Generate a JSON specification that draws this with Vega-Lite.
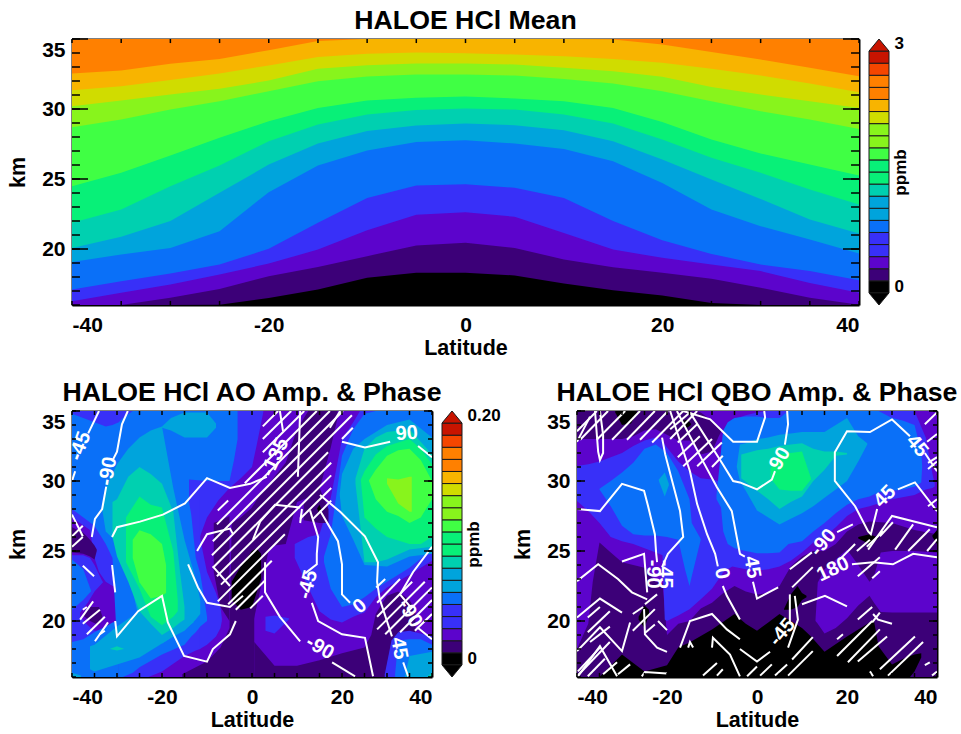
{"$schema":"https://vega.github.io/schema/vega-lite/v6.json","background":"white","padding":{"left":7,"top":8,"right":0,"bottom":0},
"config":{"font":"Liberation Sans","view":{"stroke":null},"title":{"font":"Liberation Sans","fontSize":26.7,"fontWeight":"bold","color":"black","anchor":"middle","offset":3.5},
"axis":{"grid":false,"domain":false,"ticks":false,"labels":false,"title":null,"domainColor":"black","domainWidth":2,"zindex":1,"labelFont":"Liberation Sans","labelFontSize":21,"labelFontWeight":"bold","labelColor":"black","titleFont":"Liberation Sans","titleFontSize":21.5,"titleFontWeight":"bold","titleColor":"black"}},
"datasets":{
"kmT":[{"km":16},{"km":17},{"km":18},{"km":19},{"km":20},{"km":21},{"km":22},{"km":23},{"km":24},{"km":25},{"km":26},{"km":27},{"km":28},{"km":29},{"km":30},{"km":31},{"km":32},{"km":33},{"km":34},{"km":35}],
"kmM":[{"km":20},{"km":25},{"km":30},{"km":35}],
"latT":[{"lat":-40},{"lat":-35},{"lat":-30},{"lat":-25},{"lat":-20},{"lat":-15},{"lat":-10},{"lat":-5},{"lat":0},{"lat":5},{"lat":10},{"lat":15},{"lat":20},{"lat":25},{"lat":30},{"lat":35},{"lat":40}],
"top":[
{"c":"o","lat":-40,"hi":35},{"c":"o","lat":40,"hi":35},
{"c":"a","lat":-40,"hi":32.54},{"c":"a","lat":-35,"hi":32.75},{"c":"a","lat":-30,"hi":33.23},{"c":"a","lat":-25,"hi":33.58},{"c":"a","lat":-20,"hi":34.2},{"c":"a","lat":-15,"hi":34.85},{"c":"a","lat":-10,"hi":35},{"c":"a","lat":-5,"hi":35},{"c":"a","lat":0,"hi":35},{"c":"a","lat":5,"hi":35},{"c":"a","lat":10,"hi":35},{"c":"a","lat":15,"hi":34.96},{"c":"a","lat":20,"hi":34.6},{"c":"a","lat":25,"hi":34.08},{"c":"a","lat":30,"hi":33.53},{"c":"a","lat":35,"hi":32.94},{"c":"a","lat":40,"hi":32.34},
{"c":"y","lat":-40,"hi":31.34},{"c":"y","lat":-35,"hi":31.63},{"c":"y","lat":-30,"hi":32.08},{"c":"y","lat":-25,"hi":32.54},{"c":"y","lat":-20,"hi":33.11},{"c":"y","lat":-15,"hi":33.72},{"c":"y","lat":-10,"hi":33.94},{"c":"y","lat":-5,"hi":34.03},{"c":"y","lat":0,"hi":33.99},{"c":"y","lat":5,"hi":33.89},{"c":"y","lat":10,"hi":33.77},{"c":"y","lat":15,"hi":33.58},{"c":"y","lat":20,"hi":33.3},{"c":"y","lat":25,"hi":32.87},{"c":"y","lat":30,"hi":32.39},{"c":"y","lat":35,"hi":31.82},{"c":"y","lat":40,"hi":31.2},
{"c":"l","lat":-40,"hi":30.2},{"c":"l","lat":-35,"hi":30.6},{"c":"l","lat":-30,"hi":31.03},{"c":"l","lat":-25,"hi":31.44},{"c":"l","lat":-20,"hi":32.03},{"c":"l","lat":-15,"hi":32.87},{"c":"l","lat":-10,"hi":33.13},{"c":"l","lat":-5,"hi":33.25},{"c":"l","lat":0,"hi":33.25},{"c":"l","lat":5,"hi":33.18},{"c":"l","lat":10,"hi":32.94},{"c":"l","lat":15,"hi":32.7},{"c":"l","lat":20,"hi":32.3},{"c":"l","lat":25,"hi":31.58},{"c":"l","lat":30,"hi":31.03},{"c":"l","lat":35,"hi":30.56},{"c":"l","lat":40,"hi":30.08},
{"c":"g","lat":-40,"hi":28.7},{"c":"g","lat":-35,"hi":29.25},{"c":"g","lat":-30,"hi":29.96},{"c":"g","lat":-25,"hi":30.56},{"c":"g","lat":-20,"hi":31.27},{"c":"g","lat":-15,"hi":31.99},{"c":"g","lat":-10,"hi":32.32},{"c":"g","lat":-5,"hi":32.46},{"c":"g","lat":0,"hi":32.46},{"c":"g","lat":5,"hi":32.39},{"c":"g","lat":10,"hi":32.15},{"c":"g","lat":15,"hi":31.82},{"c":"g","lat":20,"hi":31.27},{"c":"g","lat":25,"hi":30.56},{"c":"g","lat":30,"hi":29.84},{"c":"g","lat":35,"hi":29.25},{"c":"g","lat":40,"hi":28.58},
{"c":"s","lat":-40,"hi":24.49},{"c":"s","lat":-35,"hi":25.44},{"c":"s","lat":-30,"hi":26.68},{"c":"s","lat":-25,"hi":27.94},{"c":"s","lat":-20,"hi":29.13},{"c":"s","lat":-15,"hi":30.08},{"c":"s","lat":-10,"hi":30.6},{"c":"s","lat":-5,"hi":30.8},{"c":"s","lat":0,"hi":30.89},{"c":"s","lat":5,"hi":30.75},{"c":"s","lat":10,"hi":30.56},{"c":"s","lat":15,"hi":30.08},{"c":"s","lat":20,"hi":29.08},{"c":"s","lat":25,"hi":27.82},{"c":"s","lat":30,"hi":26.82},{"c":"s","lat":35,"hi":26.03},{"c":"s","lat":40,"hi":25.25},
{"c":"t","lat":-40,"hi":21.87},{"c":"t","lat":-35,"hi":22.82},{"c":"t","lat":-30,"hi":24.49},{"c":"t","lat":-25,"hi":25.96},{"c":"t","lat":-20,"hi":27.7},{"c":"t","lat":-15,"hi":28.89},{"c":"t","lat":-10,"hi":29.61},{"c":"t","lat":-5,"hi":29.92},{"c":"t","lat":0,"hi":30.03},{"c":"t","lat":5,"hi":29.96},{"c":"t","lat":10,"hi":29.61},{"c":"t","lat":15,"hi":28.96},{"c":"t","lat":20,"hi":27.82},{"c":"t","lat":25,"hi":26.51},{"c":"t","lat":30,"hi":25.44},{"c":"t","lat":35,"hi":24.25},{"c":"t","lat":40,"hi":23.18},
{"c":"c","lat":-40,"hi":20.08},{"c":"c","lat":-35,"hi":20.87},{"c":"c","lat":-30,"hi":22},{"c":"c","lat":-25,"hi":24.01},{"c":"c","lat":-20,"hi":26.03},{"c":"c","lat":-15,"hi":27.53},{"c":"c","lat":-10,"hi":28.42},{"c":"c","lat":-5,"hi":28.82},{"c":"c","lat":0,"hi":28.96},{"c":"c","lat":5,"hi":28.84},{"c":"c","lat":10,"hi":28.49},{"c":"c","lat":15,"hi":27.7},{"c":"c","lat":20,"hi":26.39},{"c":"c","lat":25,"hi":24.96},{"c":"c","lat":30,"hi":23.58},{"c":"c","lat":35,"hi":22.11},{"c":"c","lat":40,"hi":21.11},
{"c":"b","lat":-40,"hi":19.08},{"c":"b","lat":-35,"hi":19.6},{"c":"b","lat":-30,"hi":20.08},{"c":"b","lat":-25,"hi":21.27},{"c":"b","lat":-20,"hi":24.06},{"c":"b","lat":-15,"hi":25.96},{"c":"b","lat":-10,"hi":27.03},{"c":"b","lat":-5,"hi":27.65},{"c":"b","lat":0,"hi":27.77},{"c":"b","lat":5,"hi":27.53},{"c":"b","lat":10,"hi":27.15},{"c":"b","lat":15,"hi":26.27},{"c":"b","lat":20,"hi":24.72},{"c":"b","lat":25,"hi":22.82},{"c":"b","lat":30,"hi":21.63},{"c":"b","lat":35,"hi":20.68},{"c":"b","lat":40,"hi":19.68},
{"c":"v","lat":-40,"hi":17.11},{"c":"v","lat":-35,"hi":17.7},{"c":"v","lat":-30,"hi":18.25},{"c":"v","lat":-25,"hi":18.89},{"c":"v","lat":-20,"hi":20.01},{"c":"v","lat":-15,"hi":21.87},{"c":"v","lat":-10,"hi":23.65},{"c":"v","lat":-5,"hi":24.53},{"c":"v","lat":0,"hi":24.63},{"c":"v","lat":5,"hi":24.37},{"c":"v","lat":10,"hi":23.65},{"c":"v","lat":15,"hi":22},{"c":"v","lat":20,"hi":20.63},{"c":"v","lat":25,"hi":19.65},{"c":"v","lat":30,"hi":18.89},{"c":"v","lat":35,"hi":18.42},{"c":"v","lat":40,"hi":17.77},
{"c":"p","lat":-40,"hi":16.27},{"c":"p","lat":-35,"hi":16.87},{"c":"p","lat":-30,"hi":17.46},{"c":"p","lat":-25,"hi":18.18},{"c":"p","lat":-20,"hi":18.96},{"c":"p","lat":-15,"hi":19.96},{"c":"p","lat":-10,"hi":21.34},{"c":"p","lat":-5,"hi":22.44},{"c":"p","lat":0,"hi":22.63},{"c":"p","lat":5,"hi":22.3},{"c":"p","lat":10,"hi":21.15},{"c":"p","lat":15,"hi":19.96},{"c":"p","lat":20,"hi":19.37},{"c":"p","lat":25,"hi":18.89},{"c":"p","lat":30,"hi":18.42},{"c":"p","lat":35,"hi":17.58},{"c":"p","lat":40,"hi":16.87},
{"c":"i","lat":-40,"hi":16},{"c":"i","lat":-35,"hi":16},{"c":"i","lat":-30,"hi":16.51},{"c":"i","lat":-25,"hi":17.15},{"c":"i","lat":-20,"hi":18.06},{"c":"i","lat":-15,"hi":18.72},{"c":"i","lat":-10,"hi":19.49},{"c":"i","lat":-5,"hi":20.25},{"c":"i","lat":0,"hi":20.44},{"c":"i","lat":5,"hi":20.08},{"c":"i","lat":10,"hi":19.25},{"c":"i","lat":15,"hi":18.7},{"c":"i","lat":20,"hi":18.3},{"c":"i","lat":25,"hi":17.87},{"c":"i","lat":30,"hi":17.23},{"c":"i","lat":35,"hi":16.51},{"c":"i","lat":40,"hi":16.01},
{"c":"k","lat":-40,"hi":16},{"c":"k","lat":-30,"hi":16},{"c":"k","lat":-25,"hi":16.01},{"c":"k","lat":-20,"hi":16.5},{"c":"k","lat":-15,"hi":17.11},{"c":"k","lat":-10,"hi":17.94},{"c":"k","lat":-5,"hi":18.3},{"c":"k","lat":0,"hi":18.3},{"c":"k","lat":5,"hi":18.11},{"c":"k","lat":10,"hi":17.53},{"c":"k","lat":15,"hi":17.06},{"c":"k","lat":20,"hi":16.68},{"c":"k","lat":25,"hi":16.15},{"c":"k","lat":30,"hi":16},{"c":"k","lat":40,"hi":16}
],
"cbBands":[{"c":"k","lo":-1,"hi":0},{"c":"i","lo":0,"hi":1},{"c":"p","lo":1,"hi":2},{"c":"v","lo":2,"hi":3},{"c":"v","lo":3,"hi":4},{"c":"b","lo":4,"hi":5},{"c":"c","lo":5,"hi":6},{"c":"c","lo":6,"hi":7},{"c":"t","lo":7,"hi":8},{"c":"s","lo":8,"hi":9},{"c":"s","lo":9,"hi":10},{"c":"g","lo":10,"hi":11},{"c":"l","lo":11,"hi":12},{"c":"l","lo":12,"hi":13},{"c":"y","lo":13,"hi":14},{"c":"a","lo":14,"hi":15},{"c":"o","lo":15,"hi":16},{"c":"o","lo":16,"hi":17},{"c":"x","lo":17,"hi":18},{"c":"r","lo":18,"hi":19}],
"cbEnds":[{"c":"r","u":0,"lo":19,"hi":19},{"c":"r","u":0.5,"lo":19,"hi":20},{"c":"r","u":1,"lo":19,"hi":19},{"c":"k","u":0,"lo":-1,"hi":-1},{"c":"k","u":0.5,"lo":-2,"hi":-1},{"c":"k","u":1,"lo":-1,"hi":-1}],
"ao":[
{"b":"base","c":"p","lat":-40,"lo":16,"hi":35},{"b":"base","c":"p","lat":40,"lo":16,"hi":35},
{"b":"v1","c":"v","lat":-40,"lo":27.4,"hi":35},{"b":"v1","c":"v","lat":-36,"lo":26.5,"hi":35},{"b":"v1","c":"v","lat":-35,"lo":24.5,"hi":35},{"b":"v1","c":"v","lat":-34,"lo":23.5,"hi":35},{"b":"v1","c":"v","lat":-32.5,"lo":22.8,"hi":35},{"b":"v1","c":"v","lat":-30.5,"lo":22.4,"hi":35},{"b":"v1","c":"v","lat":-29.6,"lo":16,"hi":35},{"b":"v1","c":"v","lat":-23,"lo":16,"hi":35},{"b":"v1","c":"v","lat":-20,"lo":16.4,"hi":35},{"b":"v1","c":"v","lat":-15,"lo":17.5,"hi":35},{"b":"v1","c":"v","lat":-12.5,"lo":17.9,"hi":35},{"b":"v1","c":"v","lat":-11.5,"lo":18,"hi":35},
{"b":"v2","c":"v","lat":-11.6,"lo":26,"hi":35},{"b":"v2","c":"v","lat":-10,"lo":27.4,"hi":35},{"b":"v2","c":"v","lat":-7.5,"lo":28.6,"hi":35},{"b":"v2","c":"v","lat":-5,"lo":29.5,"hi":35},{"b":"v2","c":"v","lat":-2.5,"lo":30.2,"hi":35},{"b":"v2","c":"v","lat":0,"lo":31,"hi":35},{"b":"v2","c":"v","lat":1,"lo":32.5,"hi":35},{"b":"v2","c":"v","lat":2.5,"lo":34.9,"hi":35},
{"b":"v2b","c":"v","lat":-11.6,"lo":18,"hi":26},{"b":"v2b","c":"v","lat":-10,"lo":18.3,"hi":23.5},{"b":"v2b","c":"v","lat":-8,"lo":18.9,"hi":22},{"b":"v2b","c":"v","lat":-7,"lo":19.5,"hi":21},{"b":"v2b","c":"v","lat":-6.7,"lo":20,"hi":20.2},
{"b":"v3","c":"v","lat":-40,"lo":16,"hi":24.7},{"b":"v3","c":"v","lat":-37.5,"lo":16,"hi":24.7},{"b":"v3","c":"v","lat":-36,"lo":16,"hi":24.5},{"b":"v3","c":"v","lat":-35,"lo":16,"hi":24},{"b":"v3","c":"v","lat":-33.5,"lo":16,"hi":23},{"b":"v3","c":"v","lat":-30,"lo":16,"hi":21},
{"b":"vR","c":"v","lat":9.5,"lo":24.5,"hi":25.5},{"b":"vR","c":"v","lat":12.5,"lo":22.4,"hi":26},{"b":"vR","c":"v","lat":15,"lo":20.7,"hi":26.2},{"b":"vR","c":"v","lat":17.5,"lo":20.1,"hi":28.8},{"b":"vR","c":"v","lat":20,"lo":19.9,"hi":33},{"b":"vR","c":"v","lat":22.5,"lo":20.3,"hi":34.2},{"b":"vR","c":"v","lat":24,"lo":20.5,"hi":35},{"b":"vR","c":"v","lat":25,"lo":20.6,"hi":35},{"b":"vR","c":"v","lat":27.5,"lo":21.7,"hi":35},{"b":"vR","c":"v","lat":30,"lo":22.4,"hi":35},{"b":"vR","c":"v","lat":35,"lo":23.3,"hi":35},{"b":"vR","c":"v","lat":40,"lo":24.3,"hi":35},
{"b":"p2","c":"p","lat":-38.2,"lo":20.3,"hi":20.6},{"b":"p2","c":"p","lat":-36.5,"lo":19.7,"hi":21.3},{"b":"p2","c":"p","lat":-35,"lo":19.3,"hi":22.1},{"b":"p2","c":"p","lat":-33,"lo":19.4,"hi":22.8},{"b":"p2","c":"p","lat":-31,"lo":19.8,"hi":22.5},{"b":"p2","c":"p","lat":-29.6,"lo":19.9,"hi":22.4},
{"b":"iL","c":"i","lat":-40,"lo":24.9,"hi":26.7},{"b":"iL","c":"i","lat":-37.5,"lo":24.8,"hi":26.3},{"b":"iL","c":"i","lat":-36,"lo":24.6,"hi":25.8},{"b":"iL","c":"i","lat":-35,"lo":24.4,"hi":25.4},{"b":"iL","c":"i","lat":-34.5,"lo":25,"hi":25.1},
{"b":"ip2","c":"i","lat":-37.5,"lo":20.4,"hi":20.6},{"b":"ip2","c":"i","lat":-36,"lo":20,"hi":21},{"b":"ip2","c":"i","lat":-34,"lo":19.7,"hi":21},{"b":"ip2","c":"i","lat":-33.3,"lo":20.2,"hi":20.4},
{"b":"i1","c":"i","lat":-15.5,"lo":16,"hi":16.2},{"b":"i1","c":"i","lat":-12.5,"lo":16,"hi":16.7},{"b":"i1","c":"i","lat":-10,"lo":16,"hi":17.1},{"b":"i1","c":"i","lat":-7,"lo":16,"hi":18.1},{"b":"i1","c":"i","lat":-5,"lo":16,"hi":19.5},{"b":"i1","c":"i","lat":-4.5,"lo":16,"hi":27},{"b":"i1","c":"i","lat":-2.5,"lo":16,"hi":27.4},{"b":"i1","c":"i","lat":0,"lo":16,"hi":28.1},{"b":"i1","c":"i","lat":0.5,"lo":16,"hi":28.3},
{"b":"i1b","c":"i","lat":-8.5,"lo":23.5,"hi":27},{"b":"i1b","c":"i","lat":-7,"lo":21,"hi":27.2},{"b":"i1b","c":"i","lat":-5,"lo":20,"hi":27.5},
{"b":"i2","c":"i","lat":0,"lo":19.5,"hi":28.1},{"b":"i2","c":"i","lat":2.5,"lo":23.2,"hi":29.4},{"b":"i2","c":"i","lat":3.8,"lo":25.2,"hi":29.8},{"b":"i2","c":"i","lat":5,"lo":25.4,"hi":30.3},{"b":"i2","c":"i","lat":7.5,"lo":25.5,"hi":31.3},{"b":"i2","c":"i","lat":10,"lo":28.5,"hi":33.7},{"b":"i2","c":"i","lat":12.5,"lo":28.8,"hi":35},{"b":"i2","c":"i","lat":15,"lo":29.4,"hi":35},{"b":"i2","c":"i","lat":17.5,"lo":32.4,"hi":35},{"b":"i2","c":"i","lat":19,"lo":34.5,"hi":35},
{"b":"i4","c":"i","lat":11.5,"lo":27.2,"hi":28.5},{"b":"i4","c":"i","lat":15,"lo":27,"hi":29.5},{"b":"i4","c":"i","lat":17,"lo":27,"hi":28},
{"b":"i3","c":"i","lat":0.5,"lo":16,"hi":18.5},{"b":"i3","c":"i","lat":5,"lo":16,"hi":16.8},{"b":"i3","c":"i","lat":10,"lo":16,"hi":16.8},{"b":"i3","c":"i","lat":15,"lo":16,"hi":17.2},{"b":"i3","c":"i","lat":20,"lo":16,"hi":17.7},{"b":"i3","c":"i","lat":25,"lo":16,"hi":18.1},{"b":"i3","c":"i","lat":26.5,"lo":16,"hi":19},{"b":"i3","c":"i","lat":27.5,"lo":16,"hi":20.5},{"b":"i3","c":"i","lat":29,"lo":16,"hi":21.3},{"b":"i3","c":"i","lat":30,"lo":16,"hi":21.8},{"b":"i3","c":"i","lat":32.5,"lo":16,"hi":22.1},{"b":"i3","c":"i","lat":35,"lo":16,"hi":21.5},{"b":"i3","c":"i","lat":36.3,"lo":16,"hi":20.8},{"b":"i3","c":"i","lat":36.4,"lo":16,"hi":16},
{"b":"vR2","c":"v","lat":29.5,"lo":16,"hi":16.2},{"b":"vR2","c":"v","lat":31,"lo":16,"hi":18.6},{"b":"vR2","c":"v","lat":32.5,"lo":16,"hi":19.2},{"b":"vR2","c":"v","lat":35,"lo":16,"hi":19.3},{"b":"vR2","c":"v","lat":40,"lo":16,"hi":18.9},
{"b":"vC","c":"v","lat":3,"lo":19.3,"hi":20.3},{"b":"vC","c":"v","lat":5,"lo":19.1,"hi":20.4},{"b":"vC","c":"v","lat":8.2,"lo":20.1,"hi":20.2},
{"b":"b1","c":"b","lat":-40,"lo":28,"hi":34.8},{"b":"b1","c":"b","lat":-35,"lo":26.8,"hi":34.2},{"b":"b1","c":"b","lat":-32.5,"lo":25.5,"hi":33.9},{"b":"b1","c":"b","lat":-31,"lo":24.5,"hi":34},{"b":"b1","c":"b","lat":-29.6,"lo":16,"hi":34.2},{"b":"b1","c":"b","lat":-28.7,"lo":16,"hi":34.5},{"b":"b1","c":"b","lat":-26.5,"lo":16.3,"hi":35},{"b":"b1","c":"b","lat":-25,"lo":16.7,"hi":35},{"b":"b1","c":"b","lat":-20,"lo":17.6,"hi":35},{"b":"b1","c":"b","lat":-15,"lo":18.3,"hi":35},{"b":"b1","c":"b","lat":-14,"lo":18.7,"hi":35},
{"b":"b1t","c":"b","lat":-14,"lo":30.1,"hi":35},{"b":"b1t","c":"b","lat":-10,"lo":30,"hi":35},{"b":"b1t","c":"b","lat":-5,"lo":30,"hi":35},{"b":"b1t","c":"b","lat":-4,"lo":31.5,"hi":35},{"b":"b1t","c":"b","lat":-3.2,"lo":33,"hi":35},
{"b":"b3","c":"b","lat":-14,"lo":18.7,"hi":28.5},{"b":"b3","c":"b","lat":-13.5,"lo":18.9,"hi":27.6},{"b":"b3","c":"b","lat":-12.5,"lo":19.2,"hi":24.5},{"b":"b3","c":"b","lat":-11.5,"lo":19.6,"hi":23.4},{"b":"b3","c":"b","lat":-10,"lo":20,"hi":20.3},
{"b":"b2a","c":"b","lat":-40,"lo":20.8,"hi":24.4},{"b":"b2a","c":"b","lat":-37.5,"lo":21.5,"hi":23.7},{"b":"b2a","c":"b","lat":-35.8,"lo":22.1,"hi":22.2},
{"b":"b2b","c":"b","lat":-40,"lo":16,"hi":18.5},{"b":"b2b","c":"b","lat":-37.5,"lo":16,"hi":18.7},{"b":"b2b","c":"b","lat":-35,"lo":16,"hi":19.2},{"b":"b2b","c":"b","lat":-32.5,"lo":16,"hi":19.6},{"b":"b2b","c":"b","lat":-31,"lo":16,"hi":19.9},{"b":"b2b","c":"b","lat":-29.6,"lo":16,"hi":20},
{"b":"bR","c":"b","lat":16,"lo":24.2,"hi":24.6},{"b":"bR","c":"b","lat":17.5,"lo":22.3,"hi":26.2},{"b":"bR","c":"b","lat":20,"lo":21,"hi":31.8},{"b":"bR","c":"b","lat":22.5,"lo":21.2,"hi":33.7},{"b":"bR","c":"b","lat":25,"lo":21.7,"hi":34.8},{"b":"bR","c":"b","lat":27.5,"lo":22.3,"hi":35},{"b":"bR","c":"b","lat":30,"lo":22.8,"hi":35},{"b":"bR","c":"b","lat":35,"lo":23.8,"hi":35},{"b":"bR","c":"b","lat":40,"lo":25.1,"hi":35},
{"b":"bR2","c":"b","lat":31.8,"lo":16,"hi":16.2},{"b":"bR2","c":"b","lat":32.5,"lo":16,"hi":18.6},{"b":"bR2","c":"b","lat":35,"lo":16,"hi":18.7},{"b":"bR2","c":"b","lat":37.5,"lo":16,"hi":18.7},{"b":"bR2","c":"b","lat":40,"lo":16,"hi":18.3},
{"b":"c1","c":"c","lat":-33.3,"lo":28,"hi":28.1},{"b":"c1","c":"c","lat":-32.5,"lo":26.4,"hi":29.5},{"b":"c1","c":"c","lat":-30,"lo":25.6,"hi":31.2},{"b":"c1","c":"c","lat":-27.5,"lo":23.5,"hi":32.3},{"b":"c1","c":"c","lat":-25,"lo":20,"hi":33.1},{"b":"c1","c":"c","lat":-22.5,"lo":19.5,"hi":33.6},{"b":"c1","c":"c","lat":-20,"lo":18.4,"hi":33.9},{"b":"c1","c":"c","lat":-17.5,"lo":18.9,"hi":29.5},{"b":"c1","c":"c","lat":-15,"lo":19.3,"hi":25.8},{"b":"c1","c":"c","lat":-12.5,"lo":20.1,"hi":23},{"b":"c1","c":"c","lat":-11.5,"lo":20.5,"hi":21.5},
{"b":"c2","c":"c","lat":-36,"lo":16.55,"hi":18.2},{"b":"c2","c":"c","lat":-35,"lo":16.4,"hi":18.3},{"b":"c2","c":"c","lat":-30,"lo":16.9,"hi":19.6},{"b":"c2","c":"c","lat":-25,"lo":17.4,"hi":20.7},{"b":"c2","c":"c","lat":-20,"lo":18.4,"hi":20.5},{"b":"c2","c":"c","lat":-15,"lo":19.4,"hi":20.5},{"b":"c2","c":"c","lat":-13,"lo":19.9,"hi":20.2},
{"b":"c3","c":"c","lat":-20,"lo":33.8,"hi":33.9},{"b":"c3","c":"c","lat":-18,"lo":33.6,"hi":34.5},{"b":"c3","c":"c","lat":-15,"lo":33.1,"hi":34.9},{"b":"c3","c":"c","lat":-10,"lo":33.1,"hi":34.9},{"b":"c3","c":"c","lat":-8,"lo":33.8,"hi":34.1},
{"b":"c4","c":"c","lat":-40,"lo":16,"hi":16.3},{"b":"c4","c":"c","lat":-38,"lo":16,"hi":16.1},
{"b":"cR","c":"c","lat":19.5,"lo":29,"hi":29.1},{"b":"cR","c":"c","lat":20,"lo":27.5,"hi":30.5},{"b":"cR","c":"c","lat":22.5,"lo":25.8,"hi":32.3},{"b":"cR","c":"c","lat":25,"lo":24,"hi":33},{"b":"cR","c":"c","lat":30,"lo":23.9,"hi":34},{"b":"cR","c":"c","lat":35,"lo":24.6,"hi":34.4},{"b":"cR","c":"c","lat":40,"lo":24.8,"hi":33.1},
{"b":"cR2","c":"c","lat":34,"lo":16,"hi":16.1},{"b":"cR2","c":"c","lat":35,"lo":16,"hi":17.5},{"b":"cR2","c":"c","lat":40,"lo":16,"hi":17.8},
{"b":"t1","c":"t","lat":-31,"lo":26,"hi":28.5},{"b":"t1","c":"t","lat":-30,"lo":24.6,"hi":28.7},{"b":"t1","c":"t","lat":-27.5,"lo":22.8,"hi":30.3},{"b":"t1","c":"t","lat":-25,"lo":20.7,"hi":31},{"b":"t1","c":"t","lat":-22.5,"lo":19.8,"hi":30.5},{"b":"t1","c":"t","lat":-20,"lo":19,"hi":29.8},{"b":"t1","c":"t","lat":-17.5,"lo":19.5,"hi":27.8},{"b":"t1","c":"t","lat":-16,"lo":19.9,"hi":23.5},{"b":"t1","c":"t","lat":-15,"lo":20.1,"hi":21},
{"b":"t2","c":"t","lat":-31.5,"lo":18,"hi":18.01},{"b":"t2","c":"t","lat":-30,"lo":17.9,"hi":18.2},{"b":"t2","c":"t","lat":-28.5,"lo":18,"hi":18.01},
{"b":"tR","c":"t","lat":23,"lo":29.8,"hi":30.2},{"b":"tR","c":"t","lat":25,"lo":24.2,"hi":32.3},{"b":"tR","c":"t","lat":27.5,"lo":24.2,"hi":33.1},{"b":"tR","c":"t","lat":30,"lo":24.4,"hi":33.5},{"b":"tR","c":"t","lat":35,"lo":25.1,"hi":33.7},{"b":"tR","c":"t","lat":40,"lo":25.3,"hi":31.9},
{"b":"tC","c":"t","lat":39,"lo":16,"hi":16.05},{"b":"tC","c":"t","lat":40,"lo":16,"hi":16.3},
{"b":"s1","c":"s","lat":-28,"lo":24.2,"hi":27.4},{"b":"s1","c":"s","lat":-25,"lo":22.3,"hi":28.9},{"b":"s1","c":"s","lat":-22.5,"lo":20.3,"hi":28.3},{"b":"s1","c":"s","lat":-20,"lo":19.7,"hi":28.1},{"b":"s1","c":"s","lat":-17.5,"lo":20.3,"hi":25},{"b":"s1","c":"s","lat":-16.5,"lo":20.7,"hi":21.5},
{"b":"sR","c":"s","lat":24.2,"lo":30,"hi":30.1},{"b":"sR","c":"s","lat":25,"lo":27.4,"hi":30.7},{"b":"sR","c":"s","lat":27.5,"lo":26.6,"hi":31.9},{"b":"sR","c":"s","lat":30,"lo":26,"hi":32.5},{"b":"sR","c":"s","lat":35,"lo":25.5,"hi":33},{"b":"sR","c":"s","lat":37.5,"lo":25.5,"hi":32.3},{"b":"sR","c":"s","lat":40,"lo":26,"hi":31.2},
{"b":"g1","c":"g","lat":-26.5,"lo":24.5,"hi":25.8},{"b":"g1","c":"g","lat":-25,"lo":22.76,"hi":26.48},{"b":"g1","c":"g","lat":-22.5,"lo":21.6,"hi":26.2},{"b":"g1","c":"g","lat":-20,"lo":21.8,"hi":25.5},{"b":"g1","c":"g","lat":-19.1,"lo":22,"hi":24},
{"b":"gR","c":"g","lat":26,"lo":30,"hi":30.05},{"b":"gR","c":"g","lat":27.5,"lo":28.7,"hi":30.8},{"b":"gR","c":"g","lat":30,"lo":27.8,"hi":31.8},{"b":"gR","c":"g","lat":32.5,"lo":27.5,"hi":32.2},{"b":"gR","c":"g","lat":35,"lo":27,"hi":32.3},{"b":"gR","c":"g","lat":37.5,"lo":27.4,"hi":31.5},{"b":"gR","c":"g","lat":40,"lo":28.7,"hi":30},
{"b":"lR","c":"l","lat":30,"lo":29.8,"hi":30.2},{"b":"lR","c":"l","lat":32.5,"lo":28.4,"hi":30.1},{"b":"lR","c":"l","lat":35,"lo":27.8,"hi":30.3},{"b":"lR","c":"l","lat":35.5,"lo":27.8,"hi":30.3},
{"b":"k1","c":"k","lat":-4.5,"lo":21.5,"hi":22.8},{"b":"k1","c":"k","lat":-2.5,"lo":20.8,"hi":23.9},{"b":"k1","c":"k","lat":0,"lo":21,"hi":25},{"b":"k1","c":"k","lat":1,"lo":22,"hi":25.2},{"b":"k1","c":"k","lat":2,"lo":23,"hi":24.8},
{"b":"k2","c":"k","lat":14.5,"lo":28,"hi":28.05},{"b":"k2","c":"k","lat":15,"lo":27.7,"hi":28.3},{"b":"k2","c":"k","lat":15.3,"lo":28,"hi":28.05}
],
"aoLines":[
{"l":"a1","lat":-40,"km":30},{"l":"a1","lat":-39.3,"km":30.7},{"l":"a2","lat":-36.4,"km":33.4},{"l":"a2","lat":-34,"km":35},
{"l":"b1","lat":-27.6,"km":35},{"l":"b1","lat":-28.9,"km":34.05},{"l":"b1","lat":-30,"km":32.1},{"l":"b1","lat":-31.1,"km":31.4},
{"l":"b1b","lat":-32.4,"km":29.6},{"l":"b1b","lat":-33.3,"km":28},{"l":"b1b","lat":-34.9,"km":27.3},{"l":"b1b","lat":-35.6,"km":26},
{"l":"cr","lat":-40,"km":27.6},{"l":"cr","lat":-37.6,"km":26.05},{"l":"cs","lat":-37.6,"km":23.95},{"l":"cs","lat":-35.1,"km":23.2},
{"l":"b2","lat":-31.1,"km":24},{"l":"b2","lat":-30.4,"km":22.05},
{"l":"b3","lat":-30.4,"km":20},{"l":"b3","lat":-30,"km":18.9},{"l":"b3","lat":-25.3,"km":20.7},{"l":"b3","lat":-20,"km":21.8},{"l":"b3","lat":-18.7,"km":19.9},{"l":"b3","lat":-15.1,"km":17.5},{"l":"b3","lat":-10,"km":17.1},{"l":"b3","lat":-8.7,"km":18},{"l":"b3","lat":-4.9,"km":19.05},{"l":"b3","lat":-3.6,"km":20},
{"l":"c","lat":-31.1,"km":26},{"l":"c","lat":-30,"km":26.7},{"l":"c","lat":-24.9,"km":27.1},{"l":"c","lat":-19.8,"km":27.6},{"l":"c","lat":-14.9,"km":28.4},{"l":"c","lat":-10,"km":30.2},{"l":"c","lat":-4.9,"km":29.5},{"l":"c","lat":-0.4,"km":29.8},{"l":"c","lat":3.3,"km":30.3},
{"l":"d","lat":6.2,"km":35},{"l":"d","lat":6.9,"km":33.55},{"l":"e","lat":10.7,"km":35},{"l":"e","lat":10.2,"km":30.3},{"l":"f","lat":19.6,"km":35},{"l":"f","lat":17.3,"km":33.8},
{"l":"g","lat":10.7,"km":28.1},{"l":"g","lat":5.1,"km":28.3},{"l":"g","lat":1.8,"km":27.1},{"l":"g","lat":0.2,"km":25.8},
{"l":"h","lat":-12.2,"km":25},{"l":"h","lat":-10,"km":26.2},{"l":"h","lat":-4.9,"km":26.6},{"l":"h","lat":-4.2,"km":26.2},
{"l":"i","lat":-14.2,"km":24.05},{"l":"i","lat":-12,"km":22.4},{"l":"i","lat":-10,"km":21.3},{"l":"i","lat":-4.9,"km":21},{"l":"i","lat":-2,"km":21.8},
{"l":"j","lat":-8.7,"km":23.9},{"l":"j","lat":-4.9,"km":22.5},
{"l":"k","lat":2.9,"km":24.2},{"l":"k","lat":2.9,"km":22.05},{"l":"k","lat":6.2,"km":20.3},{"l":"k","lat":10.7,"km":18.55},
{"l":"l","lat":17.8,"km":17.05},{"l":"l","lat":22.9,"km":16.05},
{"l":"m","lat":11.1,"km":28},{"l":"m","lat":10.7,"km":27},
{"l":"n","lat":12.9,"km":27.9},{"l":"n","lat":14.7,"km":26},{"l":"n","lat":14.4,"km":24.8},{"l":"n","lat":14.4,"km":24.05},{"l":"n","lat":11.8,"km":23.4},
{"l":"o","lat":13.3,"km":21.3},{"l":"o","lat":14.7,"km":20},{"l":"o","lat":20,"km":19.05},{"l":"o","lat":25.1,"km":18.8},{"l":"o","lat":26.9,"km":16.05},
{"l":"p","lat":15.1,"km":27.9},{"l":"p","lat":19.1,"km":25.7},{"l":"p","lat":19.6,"km":24.8},{"l":"p","lat":20,"km":24.05},{"l":"p","lat":20,"km":21.9},{"l":"p","lat":21.8,"km":21.3},
{"l":"q","lat":15.1,"km":29},{"l":"q","lat":19.6,"km":27.8},{"l":"q","lat":25.1,"km":26.05},{"l":"q","lat":28,"km":24.2},{"l":"q","lat":27.8,"km":22.8},{"l":"q","lat":28.4,"km":21.55},{"l":"q","lat":31.1,"km":18.9},
{"l":"r","lat":33.6,"km":17.05},{"l":"r","lat":34.7,"km":16.05},
{"l":"s","lat":40,"km":25.3},{"l":"s","lat":35.8,"km":23.5},{"l":"s","lat":32.9,"km":21.9},{"l":"s","lat":35.1,"km":21.05},
{"l":"t","lat":36.7,"km":19.55},{"l":"t","lat":40,"km":18.7},
{"l":"u","lat":20,"km":32.8},{"l":"u","lat":25.1,"km":32.4},{"l":"u","lat":30.7,"km":32.8},
{"l":"v","lat":36.9,"km":32.5},{"l":"v","lat":40,"km":31.7}
],
"aoHatch":[
{"lat":2.4,"km":33.9,"lat2":5.8,"km2":35},{"lat":2.4,"km":33,"lat2":8.7,"km2":35},{"lat":2.4,"km":32.05,"lat2":11.6,"km2":35},{"lat":-1.6,"km":29.84,"lat2":14.4,"km2":35},{"lat":-7.6,"km":27.9,"lat2":-5.3,"km2":28.6},{"lat":-7.8,"km":26.9,"lat2":17.3,"km2":35},{"lat":-8.7,"km":25.7,"lat2":20.2,"km2":35},{"lat":-8.9,"km":24.7,"lat2":22.2,"km2":34.7},{"lat":-8.7,"km":23.8,"lat2":16.9,"km2":32.05},{"lat":20,"km":33,"lat2":22.4,"km2":33.8},{"lat":-7.8,"km":23.2,"lat2":17.6,"km2":31.3},{"lat":-6.9,"km":22.6,"lat2":17.6,"km2":30.4},{"lat":-7.6,"km":21.4,"lat2":7.3,"km2":26.2},{"lat":10.7,"km":27.3,"lat2":17.6,"km2":29.5},{"lat":-5.3,"km":21.2,"lat2":4.4,"km2":24.3},{"lat":13.6,"km":27.3,"lat2":17.6,"km2":28.6},{"lat":-3.6,"km":20.8,"lat2":2.9,"km2":22.9},{"lat":-0.4,"km":20.9,"lat2":2.4,"km2":21.8},
{"lat":-38.2,"km":20.1,"lat2":-35.3,"km2":21.4},{"lat":-37.6,"km":19.8,"lat2":-33.8,"km2":20.8},{"lat":-36.7,"km":19.05,"lat2":-32.7,"km2":20.3},{"lat":-34.9,"km":18.55,"lat2":-32,"km2":19.9},{"lat":-33.8,"km":19.05,"lat2":-32.7,"km2":19.3},{"lat":-37.6,"km":20.8,"lat2":-36.7,"km2":21},{"lat":-40,"km":25.3,"lat2":-37.6,"km2":26},{"lat":-40,"km":26.05,"lat2":-37.6,"km2":26.8},
{"lat":27.6,"km":22.4,"lat2":29.6,"km2":23},{"lat":27.8,"km":21.3,"lat2":32.9,"km2":23},{"lat":27.8,"km":20.3,"lat2":35.6,"km2":22.8},{"lat":27.8,"km":19.4,"lat2":38.4,"km2":22.8},{"lat":29.6,"km":19.05,"lat2":40,"km2":22.4},{"lat":32.9,"km":19.2,"lat2":40,"km2":21.5},{"lat":36.2,"km":19.3,"lat2":40,"km2":20.5}
],
"aoText":[{"t":"-45","lat":-38.2,"km":32.5,"a":-70},{"t":"-90","lat":-32,"km":30.7,"a":-80},{"t":"-135","lat":5.1,"km":31.7,"a":-65},{"t":"90","lat":34.4,"km":33.4,"a":-5},{"t":"-45","lat":12.4,"km":22.6,"a":-75},{"t":"-90","lat":15.1,"km":18.1,"a":30},{"t":"0","lat":24,"km":21.05,"a":-40},{"t":"-90","lat":35.1,"km":20.55,"a":60},{"t":"45","lat":32.7,"km":18.05,"a":80}],
"qbo":[
{"b":"base","c":"p","lat":-40,"lo":16,"hi":35},{"b":"base","c":"p","lat":40,"lo":16,"hi":35},
{"b":"i","c":"i","lat":-40,"lo":16,"hi":18},{"b":"i","c":"i","lat":-37.5,"lo":16,"hi":19.8},{"b":"i","c":"i","lat":-36.5,"lo":16,"hi":22.8},{"b":"i","c":"i","lat":-35,"lo":16,"hi":25.6},{"b":"i","c":"i","lat":-32.5,"lo":16,"hi":24.9},{"b":"i","c":"i","lat":-30,"lo":16,"hi":24.2},{"b":"i","c":"i","lat":-27.5,"lo":16,"hi":24},{"b":"i","c":"i","lat":-25,"lo":16,"hi":23.8},{"b":"i","c":"i","lat":-22.5,"lo":16,"hi":22.8},{"b":"i","c":"i","lat":-21,"lo":16,"hi":22.7},{"b":"i","c":"i","lat":-20,"lo":16,"hi":19},{"b":"i","c":"i","lat":-17.5,"lo":16,"hi":19.8},{"b":"i","c":"i","lat":-15,"lo":16,"hi":20},{"b":"i","c":"i","lat":-12.5,"lo":16,"hi":20.9},{"b":"i","c":"i","lat":-10,"lo":16,"hi":21.3},{"b":"i","c":"i","lat":-7.5,"lo":16,"hi":22},{"b":"i","c":"i","lat":-5,"lo":16,"hi":22.5},{"b":"i","c":"i","lat":-2.5,"lo":16,"hi":22.1},{"b":"i","c":"i","lat":0,"lo":16,"hi":21.9},{"b":"i","c":"i","lat":2.5,"lo":16,"hi":22},{"b":"i","c":"i","lat":5,"lo":16,"hi":22.5},{"b":"i","c":"i","lat":7.5,"lo":16,"hi":23.9},{"b":"i","c":"i","lat":10,"lo":16,"hi":24.6},{"b":"i","c":"i","lat":12.5,"lo":16,"hi":25},{"b":"i","c":"i","lat":15,"lo":16,"hi":25},{"b":"i","c":"i","lat":17.5,"lo":16,"hi":25.5},{"b":"i","c":"i","lat":20,"lo":16,"hi":26.4},{"b":"i","c":"i","lat":22.5,"lo":16,"hi":26.9},{"b":"i","c":"i","lat":25,"lo":16,"hi":27.1},{"b":"i","c":"i","lat":30,"lo":16,"hi":27},{"b":"i","c":"i","lat":35,"lo":16,"hi":26.5},{"b":"i","c":"i","lat":40,"lo":16,"hi":26.2},
{"b":"it","c":"i","lat":-40,"lo":33,"hi":35},{"b":"it","c":"i","lat":-30,"lo":33,"hi":35},{"b":"it","c":"i","lat":-27.5,"lo":33.2,"hi":35},{"b":"it","c":"i","lat":-25,"lo":33.6,"hi":35},{"b":"it","c":"i","lat":-22.5,"lo":33.7,"hi":35},{"b":"it","c":"i","lat":-20,"lo":33.3,"hi":35},{"b":"it","c":"i","lat":-17.5,"lo":32.9,"hi":35},{"b":"it","c":"i","lat":-15,"lo":32.9,"hi":35},{"b":"it","c":"i","lat":-13,"lo":32.3,"hi":34.95},{"b":"it","c":"i","lat":-12.5,"lo":31.9,"hi":34.9},{"b":"it","c":"i","lat":-10,"lo":32.1,"hi":34.3},{"b":"it","c":"i","lat":-8.5,"lo":33.2,"hi":33.9},{"b":"it","c":"i","lat":-8,"lo":33.5,"hi":33.6},
{"b":"p2","c":"p","lat":13,"lo":20,"hi":20.1},{"b":"p2","c":"p","lat":13.5,"lo":19.8,"hi":22.75},{"b":"p2","c":"p","lat":15,"lo":19.1,"hi":23.7},{"b":"p2","c":"p","lat":17.5,"lo":19.5,"hi":24.4},{"b":"p2","c":"p","lat":20,"lo":20.2,"hi":25.1},{"b":"p2","c":"p","lat":22.5,"lo":21.1,"hi":24},{"b":"p2","c":"p","lat":25,"lo":21.8,"hi":22.8},{"b":"p2","c":"p","lat":26,"lo":21.3,"hi":23.2},{"b":"p2","c":"p","lat":27.5,"lo":20.65,"hi":24.9},{"b":"p2","c":"p","lat":30,"lo":20.6,"hi":25},{"b":"p2","c":"p","lat":35,"lo":20.6,"hi":25},{"b":"p2","c":"p","lat":40,"lo":20.6,"hi":24.9},
{"b":"v","c":"v","lat":-40,"lo":28.57,"hi":31.07},{"b":"v","c":"v","lat":-37.5,"lo":27.86,"hi":31.2},{"b":"v","c":"v","lat":-35,"lo":27,"hi":31.4},{"b":"v","c":"v","lat":-32.5,"lo":26,"hi":31.7},{"b":"v","c":"v","lat":-30,"lo":25.7,"hi":32},{"b":"v","c":"v","lat":-27.5,"lo":25.5,"hi":32.5},{"b":"v","c":"v","lat":-25,"lo":25.2,"hi":32.9},{"b":"v","c":"v","lat":-22.5,"lo":24.9,"hi":33.1},{"b":"v","c":"v","lat":-21,"lo":24.7,"hi":32.9},{"b":"v","c":"v","lat":-20.5,"lo":20.1,"hi":32.6},{"b":"v","c":"v","lat":-20,"lo":20,"hi":32.4},{"b":"v","c":"v","lat":-17.5,"lo":20.4,"hi":31.4},{"b":"v","c":"v","lat":-15,"lo":20.84,"hi":30.7},{"b":"v","c":"v","lat":-12.5,"lo":21.55,"hi":30.2},{"b":"v","c":"v","lat":-10,"lo":22.3,"hi":30.1},{"b":"v","c":"v","lat":-8.5,"lo":23,"hi":30},{"b":"v","c":"v","lat":-8,"lo":23.2,"hi":32},{"b":"v","c":"v","lat":-7.5,"lo":23.5,"hi":33.6},{"b":"v","c":"v","lat":-5.5,"lo":23.9,"hi":34.4},{"b":"v","c":"v","lat":-2.5,"lo":23.7,"hi":34.7},{"b":"v","c":"v","lat":0,"lo":23.6,"hi":34.9},{"b":"v","c":"v","lat":2.5,"lo":23.7,"hi":35},{"b":"v","c":"v","lat":5,"lo":23.9,"hi":35},{"b":"v","c":"v","lat":7.5,"lo":24.3,"hi":35},{"b":"v","c":"v","lat":10,"lo":24.9,"hi":35},{"b":"v","c":"v","lat":12.5,"lo":25.6,"hi":35},{"b":"v","c":"v","lat":15,"lo":26,"hi":35},{"b":"v","c":"v","lat":17.5,"lo":26.7,"hi":35},{"b":"v","c":"v","lat":20,"lo":27.5,"hi":35},{"b":"v","c":"v","lat":22.5,"lo":28,"hi":35},{"b":"v","c":"v","lat":25,"lo":28.2,"hi":35},{"b":"v","c":"v","lat":30,"lo":28.7,"hi":35},{"b":"v","c":"v","lat":35,"lo":29,"hi":35},{"b":"v","c":"v","lat":37.5,"lo":29.4,"hi":33.1},{"b":"v","c":"v","lat":39,"lo":29.5,"hi":30.5},{"b":"v","c":"v","lat":39.5,"lo":29.6,"hi":29.8},
{"b":"bL","c":"b","lat":-35,"lo":29.4,"hi":29.45},{"b":"bL","c":"b","lat":-32.5,"lo":28.2,"hi":30},{"b":"bL","c":"b","lat":-30,"lo":26.8,"hi":30.6},{"b":"bL","c":"b","lat":-27.5,"lo":26.2,"hi":31.3},{"b":"bL","c":"b","lat":-25,"lo":26.1,"hi":32.3},{"b":"bL","c":"b","lat":-22.5,"lo":26.1,"hi":32.6},{"b":"bL","c":"b","lat":-20,"lo":26,"hi":32},{"b":"bL","c":"b","lat":-17.5,"lo":25.8,"hi":30.7},{"b":"bL","c":"b","lat":-16,"lo":23.7,"hi":29.5},{"b":"bL","c":"b","lat":-15,"lo":22.5,"hi":28.7},{"b":"bL","c":"b","lat":-14.5,"lo":23.2,"hi":27},{"b":"bL","c":"b","lat":-12.5,"lo":25.8,"hi":25.85},
{"b":"bR","c":"b","lat":-9,"lo":28.7,"hi":29},{"b":"bR","c":"b","lat":-8,"lo":28.1,"hi":32.1},{"b":"bR","c":"b","lat":-7.5,"lo":26.4,"hi":33.6},{"b":"bR","c":"b","lat":-6.5,"lo":25.5,"hi":34.2},{"b":"bR","c":"b","lat":-5,"lo":25.2,"hi":34.5},{"b":"bR","c":"b","lat":-2.5,"lo":25,"hi":34.6},{"b":"bR","c":"b","lat":0,"lo":24.84,"hi":34.6},{"b":"bR","c":"b","lat":2.5,"lo":24.84,"hi":34.5},{"b":"bR","c":"b","lat":5,"lo":24.9,"hi":34.5},{"b":"bR","c":"b","lat":7,"lo":25.5,"hi":35},{"b":"bR","c":"b","lat":10,"lo":25.7,"hi":35},{"b":"bR","c":"b","lat":12.5,"lo":26.4,"hi":35},{"b":"bR","c":"b","lat":15,"lo":27,"hi":35},{"b":"bR","c":"b","lat":17.5,"lo":27.7,"hi":35},{"b":"bR","c":"b","lat":20,"lo":28.3,"hi":35},{"b":"bR","c":"b","lat":22.5,"lo":28.7,"hi":35},{"b":"bR","c":"b","lat":25,"lo":28.9,"hi":35},{"b":"bR","c":"b","lat":27,"lo":29.2,"hi":35},{"b":"bR","c":"b","lat":30,"lo":29.3,"hi":34.5},{"b":"bR","c":"b","lat":32.5,"lo":29.4,"hi":34.3},{"b":"bR","c":"b","lat":35,"lo":29.6,"hi":34},{"b":"bR","c":"b","lat":36.5,"lo":29.9,"hi":32.1},{"b":"bR","c":"b","lat":36.7,"lo":31,"hi":31.1},
{"b":"cD","c":"c","lat":-21.8,"lo":30,"hi":30.1},{"b":"cD","c":"c","lat":-20.5,"lo":28.9,"hi":30.6},{"b":"cD","c":"c","lat":-19.6,"lo":29.7,"hi":29.8},
{"b":"cR","c":"c","lat":-4.5,"lo":31,"hi":31.05},{"b":"cR","c":"c","lat":-3.8,"lo":30,"hi":32.6},{"b":"cR","c":"c","lat":-2.5,"lo":29.3,"hi":32.7},{"b":"cR","c":"c","lat":0,"lo":27.9,"hi":33},{"b":"cR","c":"c","lat":2.5,"lo":27.4,"hi":33.1},{"b":"cR","c":"c","lat":5,"lo":26.9,"hi":33.3},{"b":"cR","c":"c","lat":7.5,"lo":27.3,"hi":33.4},{"b":"cR","c":"c","lat":10,"lo":27.7,"hi":33.5},{"b":"cR","c":"c","lat":12.5,"lo":28.2,"hi":33.5},{"b":"cR","c":"c","lat":15,"lo":28.8,"hi":33.5},{"b":"cR","c":"c","lat":17.5,"lo":29.4,"hi":34},{"b":"cR","c":"c","lat":20,"lo":30,"hi":34.5},{"b":"cR","c":"c","lat":22.5,"lo":31.4,"hi":33.2},{"b":"cR","c":"c","lat":24.5,"lo":32.6,"hi":32.7},
{"b":"tR","c":"t","lat":-3.5,"lo":30.2,"hi":31.9},{"b":"tR","c":"t","lat":0,"lo":29.3,"hi":32.2},{"b":"tR","c":"t","lat":2.5,"lo":28.7,"hi":32.3},{"b":"tR","c":"t","lat":5,"lo":28,"hi":32.5},{"b":"tR","c":"t","lat":7.5,"lo":28.5,"hi":32.6},{"b":"tR","c":"t","lat":10,"lo":28.9,"hi":32.7},{"b":"tR","c":"t","lat":12.5,"lo":30,"hi":32.3},{"b":"tR","c":"t","lat":15,"lo":30.8,"hi":32.1},{"b":"tR","c":"t","lat":17.5,"lo":31.8,"hi":32.1},{"b":"tR","c":"t","lat":20,"lo":31.9,"hi":32},
{"b":"sR","c":"s","lat":3,"lo":30.2,"hi":30.9},{"b":"sR","c":"s","lat":5,"lo":29.4,"hi":31.9},{"b":"sR","c":"s","lat":7.5,"lo":29.3,"hi":32},{"b":"sR","c":"s","lat":10,"lo":29.3,"hi":32.1},{"b":"sR","c":"s","lat":12,"lo":30.1,"hi":30.2},
{"b":"kT","c":"k","lat":-31.5,"lo":34.9,"hi":35},{"b":"kT","c":"k","lat":-30,"lo":34,"hi":35},{"b":"kT","c":"k","lat":-28,"lo":34.1,"hi":35},{"b":"kT","c":"k","lat":-26.7,"lo":34.9,"hi":35},
{"b":"kT2","c":"k","lat":-16.5,"lo":33.9,"hi":34.3},{"b":"kT2","c":"k","lat":-15.5,"lo":33.8,"hi":34.4},{"b":"kT2","c":"k","lat":-14.7,"lo":34,"hi":34.1},
{"b":"kB","c":"k","lat":-35,"lo":16,"hi":16},{"b":"kB","c":"k","lat":-32.5,"lo":16,"hi":16.8},{"b":"kB","c":"k","lat":-30,"lo":16,"hi":17.6},{"b":"kB","c":"k","lat":-27.5,"lo":16,"hi":17},{"b":"kB","c":"k","lat":-25,"lo":16,"hi":16.4},{"b":"kB","c":"k","lat":-20,"lo":16,"hi":16.84},{"b":"kB","c":"k","lat":-17.5,"lo":16,"hi":18.1},{"b":"kB","c":"k","lat":-15,"lo":16,"hi":18.46},{"b":"kB","c":"k","lat":-10,"lo":16,"hi":19.4},{"b":"kB","c":"k","lat":-5,"lo":16,"hi":20.5},{"b":"kB","c":"k","lat":-2.5,"lo":16,"hi":19.8},{"b":"kB","c":"k","lat":0,"lo":16,"hi":19.3},{"b":"kB","c":"k","lat":2.5,"lo":16,"hi":19.9},{"b":"kB","c":"k","lat":5,"lo":16,"hi":20.5},{"b":"kB","c":"k","lat":7.5,"lo":16,"hi":20},{"b":"kB","c":"k","lat":10,"lo":16,"hi":19.5},{"b":"kB","c":"k","lat":12,"lo":16,"hi":18.9},{"b":"kB","c":"k","lat":15,"lo":16,"hi":17.8},{"b":"kB","c":"k","lat":20,"lo":16,"hi":18.9},{"b":"kB","c":"k","lat":25,"lo":16,"hi":19.9},{"b":"kB","c":"k","lat":26,"lo":16,"hi":20},{"b":"kB","c":"k","lat":27,"lo":16,"hi":18.2},{"b":"kB","c":"k","lat":30,"lo":16,"hi":16.9},{"b":"kB","c":"k","lat":32.5,"lo":16,"hi":17.3},{"b":"kB","c":"k","lat":34,"lo":16,"hi":17.5},{"b":"kB","c":"k","lat":35,"lo":16.4,"hi":17.6},{"b":"kB","c":"k","lat":36.5,"lo":17.4,"hi":17.7},
{"b":"k2","c":"k","lat":6,"lo":20.8,"hi":20.85},{"b":"k2","c":"k","lat":7.5,"lo":20.8,"hi":21.9},{"b":"k2","c":"k","lat":9,"lo":21,"hi":22.5},{"b":"k2","c":"k","lat":10,"lo":21.5,"hi":22},{"b":"k2","c":"k","lat":11,"lo":21.7,"hi":21.8},
{"b":"k3","c":"k","lat":-26.3,"lo":20.1,"hi":20.3},{"b":"k3","c":"k","lat":-25,"lo":19.5,"hi":21.1},{"b":"k3","c":"k","lat":-24,"lo":20.5,"hi":20.8},
{"b":"k4","c":"k","lat":22.5,"lo":25.9,"hi":26},{"b":"k4","c":"k","lat":25,"lo":25.5,"hi":26.2},{"b":"k4","c":"k","lat":27,"lo":25.9,"hi":25.95},
{"b":"k5","c":"k","lat":39,"lo":26,"hi":26.1},{"b":"k5","c":"k","lat":40,"lo":25.5,"hi":26.5}
],
"qboLines":[
{"l":"1","lat":-36,"km":35},{"l":"1","lat":-35.3,"km":32.1},{"l":"1","lat":-34.9,"km":31.5},{"l":"1","lat":-34.2,"km":32},{"l":"1","lat":-34.2,"km":33.3},{"l":"1","lat":-34.9,"km":35},
{"l":"1b","lat":-40,"km":32.8},{"l":"1b","lat":-37.1,"km":34.6},
{"l":"2","lat":-40,"km":28},{"l":"2","lat":-34.9,"km":27.85},{"l":"2","lat":-30,"km":29.8},{"l":"2","lat":-25.1,"km":29.3},{"l":"2","lat":-24.2,"km":28.2},{"l":"2","lat":-22.7,"km":26.2},{"l":"2","lat":-22.4,"km":24.8},{"l":"2","lat":-22.2,"km":24.2},
{"l":"3","lat":-21.1,"km":33.1},{"l":"3","lat":-20.4,"km":31.9},{"l":"3","lat":-17.1,"km":27.85},{"l":"3","lat":-16.4,"km":26},{"l":"3","lat":-19.8,"km":24.8},{"l":"3","lat":-21.1,"km":23.85},
{"l":"4","lat":-19.3,"km":35},{"l":"4","lat":-14.9,"km":30.7},{"l":"4","lat":-13.3,"km":28.35},{"l":"4","lat":-11.1,"km":26.2},{"l":"4","lat":-9.3,"km":24.8},{"l":"4","lat":-8.7,"km":23.9},
{"l":"4b","lat":-7.6,"km":22.5},{"l":"4b","lat":-6.7,"km":21.8},{"l":"4b","lat":-3.8,"km":20.1},
{"l":"5","lat":-17.8,"km":35},{"l":"5","lat":-12,"km":31.4},{"l":"5","lat":-8.9,"km":29.55},{"l":"5","lat":-5.6,"km":27.85},{"l":"5","lat":-3.8,"km":24.8},{"l":"5","lat":-2.7,"km":24.6},
{"l":"5b","lat":-0.9,"km":22.8},{"l":"5b","lat":0,"km":21.6},{"l":"5b","lat":4.7,"km":22.4},
{"l":"6","lat":-16.4,"km":35},{"l":"6","lat":-10.4,"km":34.4},{"l":"6","lat":-5.3,"km":32.8},{"l":"6","lat":0,"km":32.8},{"l":"6","lat":1.8,"km":34.55},{"l":"6","lat":1.6,"km":35},
{"l":"7","lat":-14.9,"km":34.9},{"l":"7","lat":-7.6,"km":31.2},{"l":"7","lat":-5.3,"km":30},{"l":"7","lat":-3.8,"km":29.9},{"l":"7","lat":0,"km":29.4},{"l":"7","lat":3.3,"km":30.1},{"l":"7","lat":4,"km":30.7},
{"l":"7b","lat":6.2,"km":32.6},{"l":"7b","lat":6.9,"km":34.05},{"l":"7b","lat":6.7,"km":35},
{"l":"8","lat":34,"km":33.2},{"l":"8","lat":30,"km":34.4},{"l":"8","lat":25.1,"km":33.5},{"l":"8","lat":20,"km":33.55},{"l":"8","lat":17.3,"km":32.05},{"l":"8","lat":17.3,"km":30},{"l":"8","lat":21.8,"km":28.2},{"l":"8","lat":24.7,"km":26.4},{"l":"8","lat":25.3,"km":26.2},{"l":"8","lat":26.7,"km":28},
{"l":"8b","lat":37.3,"km":32},{"l":"8b","lat":40,"km":30.7},{"l":"8c","lat":38,"km":31.3},{"l":"8c","lat":40,"km":31.7},
{"l":"9","lat":31.3,"km":29.4},{"l":"9","lat":35.1,"km":29.9},{"l":"9","lat":40,"km":27.85},
{"l":"10","lat":24.7,"km":25.1},{"l":"10","lat":30,"km":27.5},{"l":"10","lat":40,"km":26.7},
{"l":"11","lat":21.1,"km":24.05},{"l":"11","lat":25.8,"km":24.2},{"l":"11","lat":30.2,"km":24.05},{"l":"11","lat":34.7,"km":24.8},{"l":"11","lat":40,"km":24.55},
{"l":"12","lat":20,"km":21.05},{"l":"12","lat":15.1,"km":21.8},{"l":"12","lat":10,"km":21.2},
{"l":"13","lat":7.3,"km":21.9},{"l":"13","lat":7.3,"km":19.9},
{"l":"14","lat":8.4,"km":21.8},{"l":"14","lat":9.1,"km":20.1},{"l":"14","lat":6.9,"km":18.1},
{"l":"15","lat":2.9,"km":17.8},{"l":"15","lat":0,"km":17.1},{"l":"15","lat":-3.8,"km":18},
{"l":"16","lat":25.8,"km":20.5},{"l":"16","lat":26.9,"km":20.1},{"l":"16","lat":30,"km":19.8},
{"l":"17","lat":25.1,"km":16.4},{"l":"17","lat":25.8,"km":16.05},
{"l":"18","lat":-40,"km":22.85},{"l":"18","lat":-35.3,"km":24.05},{"l":"18","lat":-30.9,"km":23},{"l":"18","lat":-27.8,"km":22.05},{"l":"18","lat":-24.4,"km":21.55},
{"l":"19","lat":-30,"km":24.25},{"l":"19","lat":-25.1,"km":24.8},{"l":"19","lat":-24.4,"km":22.05},
{"l":"20","lat":-25.1,"km":20.85},{"l":"20","lat":-24.9,"km":19.05},{"l":"20","lat":-22.2,"km":18.1},{"l":"20","lat":-20,"km":17.8},
{"l":"21","lat":-40,"km":20.25},{"l":"21","lat":-34.9,"km":21.6},{"l":"21","lat":-30,"km":20.6},
{"l":"22","lat":-40,"km":17.85},{"l":"22","lat":-34.9,"km":19.55},{"l":"22","lat":-30,"km":17.85},{"l":"22","lat":-28.2,"km":19.9},
{"l":"23","lat":-39.8,"km":16.05},{"l":"23","lat":-34.9,"km":18.2},{"l":"23","lat":-31.1,"km":16.05},
{"l":"24","lat":-22,"km":20},{"l":"24","lat":-20,"km":19.35},
{"l":"25","lat":-17.1,"km":18.1},{"l":"25","lat":-14.9,"km":20},{"l":"25","lat":-10,"km":20.5},{"l":"25","lat":-6.7,"km":19.4},{"l":"25","lat":-3.8,"km":18.7},
{"l":"26","lat":-15.3,"km":18.1},{"l":"26","lat":-14.9,"km":18.5},{"l":"26","lat":-14.2,"km":18.1},
{"l":"27","lat":-10,"km":18.1},{"l":"27","lat":-9.8,"km":18.8},{"l":"27","lat":-6,"km":17.6},{"l":"27","lat":-3.8,"km":16.05},
{"l":"28","lat":-25.6,"km":16.05},{"l":"28","lat":-24.9,"km":16.35},{"l":"28","lat":-20,"km":16.25}
],
"qboHatch":[
{"lat":-39.3,"km":32.95,"lat2":-33.1,"km2":35},{"lat":-40,"km":33.55,"lat2":-35.6,"km2":35},{"lat":-35.6,"km":32.95,"lat2":-29.3,"km2":35},{"lat":-32.2,"km":32.95,"lat2":-26,"km2":35},{"lat":-28.9,"km":32.95,"lat2":-22.7,"km2":35},{"lat":-26,"km":32.95,"lat2":-19.8,"km2":35},{"lat":-23.3,"km":32.75,"lat2":-16.4,"km2":35},{"lat":-19.3,"km":33,"lat2":-13.3,"km2":35},{"lat":-19.3,"km":33.7,"lat2":-14.9,"km2":34.9},{"lat":-17.6,"km":32.75,"lat2":-13.3,"km2":34.05},{"lat":-17.6,"km":31.7,"lat2":-12.7,"km2":33.2},{"lat":-16.4,"km":31.05,"lat2":-10,"km2":33},{"lat":-13.3,"km":31.05,"lat2":-7.8,"km2":32.75},{"lat":-10,"km":31,"lat2":-7.6,"km2":31.8},
{"lat":-37.6,"km":20.25,"lat2":-34.9,"km2":21},{"lat":-37.6,"km":19.2,"lat2":-32.7,"km2":20.7},{"lat":-37.1,"km":18.5,"lat2":-32.7,"km2":19.6},{"lat":-40,"km":16.05,"lat2":-32.7,"km2":18.5},{"lat":-39.8,"km":16.4,"lat2":-34.9,"km2":18.1},{"lat":-37.6,"km":16.05,"lat2":-33.8,"km2":17.3},{"lat":-34.2,"km":16.2,"lat2":-31.1,"km2":17.05},{"lat":-30.9,"km":16.2,"lat2":-28.2,"km2":16.9},{"lat":-27.6,"km":20.5,"lat2":-25.3,"km2":21},{"lat":-27.6,"km":19.3,"lat2":-22.7,"km2":20.85},{"lat":-24.9,"km":19.15,"lat2":-22.7,"km2":19.75},{"lat":-24.9,"km":21.2,"lat2":-22.2,"km2":21.9},{"lat":-12,"km":16.1,"lat2":-8.9,"km2":17},{"lat":-8.9,"km":16.1,"lat2":-7.6,"km2":16.55},
{"lat":-2.2,"km":16.05,"lat2":0,"km2":16.75},{"lat":0.7,"km":16.1,"lat2":3.3,"km2":16.9},{"lat":4,"km":16.1,"lat2":6.7,"km2":16.9},{"lat":6.9,"km":16.1,"lat2":12.4,"km2":17.85},{"lat":7.8,"km":17.25,"lat2":12.4,"km2":18.85},{"lat":17.8,"km":17.5,"lat2":25.6,"km2":20},{"lat":20.2,"km":17.05,"lat2":27.3,"km2":19.4},{"lat":22.4,"km":17.1,"lat2":28.9,"km2":18.9},{"lat":27.3,"km":16.55,"lat2":35.1,"km2":18.9},{"lat":29.1,"km":16.1,"lat2":36.9,"km2":18.5},{"lat":37.3,"km":16.85,"lat2":38.4,"km2":17.05},{"lat":38.9,"km":16.1,"lat2":40,"km2":16.4},{"lat":17.8,"km":18.7,"lat2":19.1,"km2":19.05},{"lat":22.4,"km":20.1,"lat2":25.6,"km2":21},{"lat":25.6,"km":19.9,"lat2":27.3,"km2":20.6},{"lat":7.8,"km":22.4,"lat2":12.4,"km2":23.85},{"lat":7.3,"km":23.7,"lat2":12.2,"km2":24.9},{"lat":18.4,"km":24.4,"lat2":21.8,"km2":25.5},{"lat":22.4,"km":23.2,"lat2":27.3,"km2":24.55},{"lat":25.6,"km":23.05,"lat2":27.3,"km2":23.55},{"lat":22.2,"km":25,"lat2":25.1,"km2":25.8},{"lat":27.3,"km":26.05,"lat2":30.2,"km2":27.05},{"lat":24.4,"km":25.3,"lat2":28,"km2":26.4},{"lat":30.7,"km":25.1,"lat2":34.7,"km2":26.9},{"lat":33.6,"km":25,"lat2":38.4,"km2":26.55},{"lat":37.8,"km":25,"lat2":40,"km2":25.85},{"lat":17.8,"km":26.35,"lat2":21.3,"km2":26.9},{"lat":37.3,"km":34.05,"lat2":40,"km2":34.9},{"lat":37.8,"km":32.8,"lat2":40,"km2":33.35},{"lat":38,"km":30.85,"lat2":40,"km2":31.4},{"lat":38,"km":28.2,"lat2":40,"km2":28.7}
],
"qboText":[{"t":"90","lat":5.1,"km":31.6,"a":-60},{"t":"45","lat":35.6,"km":32.5,"a":50},{"t":"45","lat":28.4,"km":28.9,"a":-45},{"t":"-90","lat":14.7,"km":25.6,"a":-50},{"t":"180","lat":16.9,"km":23.7,"a":-25},{"t":"-45","lat":5.6,"km":19.2,"a":-50},{"t":"45","lat":-1.1,"km":23.85,"a":80},{"t":"0","lat":-7.8,"km":23.4,"a":80},{"t":"-90","lat":-23.1,"km":23.35,"a":90},{"t":"-45","lat":-20.4,"km":23.35,"a":90}]
},
"bounds":"flush","spacing":372,
"vconcat":[
{"bounds":"flush","spacing":10,"hconcat":[
{"width":787,"height":266,"title":"HALOE HCl Mean","resolve":{"axis":{"x":"independent","y":"independent"}},"layer":[
{"data":{"name":"top"},"mark":{"type":"area","clip":true},"encoding":{"x":{"field":"lat","type":"quantitative","axis":null,"scale":{"domain":[-40,40],"nice":false,"zero":false}},"y":{"field":"hi","type":"quantitative","axis":null,"scale":{"domain":[16,35],"nice":false,"zero":false},"stack":null},"y2":{"datum":16},"color":{"field":"c","type":"nominal","legend":null,"scale":{"domain":["k","i","p","v","b","c","t","s","g","l","y","a","o","x","r"],"range":["#000000","#3c0078","#5c04cc","#3830f8","#0a70f8","#00a4dc","#00d0b0","#08f078","#40ff44","#88f41c","#d0dc00","#f8b400","#ff8000","#f54600","#c81400"]}}}},
{"data":{"name":"kmT"},"mark":{"type":"rule","stroke":"black","strokeWidth":1.5},"encoding":{"x":{"datum":-40,"type":"quantitative","axis":null},"x2":{"datum":-39.19},"y":{"field":"km","type":"quantitative","axis":null}}},
{"data":{"name":"kmT"},"mark":{"type":"rule","stroke":"black","strokeWidth":1.5},"encoding":{"x":{"datum":40,"type":"quantitative","axis":null},"x2":{"datum":39.19},"y":{"field":"km","type":"quantitative","axis":null}}},
{"data":{"name":"kmM"},"mark":{"type":"rule","stroke":"black","strokeWidth":1.5},"encoding":{"x":{"datum":-40,"type":"quantitative","axis":null},"x2":{"datum":-38.37},"y":{"field":"km","type":"quantitative","axis":null}}},
{"data":{"name":"kmM"},"mark":{"type":"rule","stroke":"black","strokeWidth":1.5},"encoding":{"x":{"datum":40,"type":"quantitative","axis":null},"x2":{"datum":38.37},"y":{"field":"km","type":"quantitative","axis":null}}},
{"data":{"name":"latT"},"mark":{"type":"rule","stroke":"black","strokeWidth":1.5},"encoding":{"x":{"field":"lat","type":"quantitative","axis":null},"y":{"datum":16,"type":"quantitative","axis":null},"y2":{"datum":16.29}}},
{"data":{"name":"latT"},"mark":{"type":"rule","stroke":"black","strokeWidth":1.5},"encoding":{"x":{"field":"lat","type":"quantitative","axis":null},"y":{"datum":35,"type":"quantitative","axis":null},"y2":{"datum":34.71}}},
{"data":{"values":[{"lat":0,"km":20}]},"mark":{"type":"point","opacity":0},"encoding":{"x":{"field":"lat","type":"quantitative","axis":{"orient":"bottom","values":[-40,-20,0,20,40],"labels":true,"labelExpr":"''+datum.value","labelPadding":9,"title":"Latitude","titlePadding":2}},"y":{"field":"km","type":"quantitative","axis":{"orient":"left","values":[20,25,30,35],"labels":true,"labelPadding":7,"labelFlush":true,"title":"km","titlePadding":12}}}},
{"data":{"values":[{"lat":0,"km":20}]},"mark":{"type":"point","opacity":0},"encoding":{"x":{"field":"lat","type":"quantitative","axis":{"orient":"top","offset":-266,"domain":true,"values":[]}},"y":{"field":"km","type":"quantitative","axis":{"orient":"right","offset":-787,"domain":true,"values":[]}}}},
{"data":{"values":[{"lat":0,"km":20}]},"mark":{"type":"point","opacity":0},"encoding":{"x":{"field":"lat","type":"quantitative","axis":{"orient":"bottom","offset":-266,"domain":true,"values":[]}},"y":{"field":"km","type":"quantitative","axis":{"orient":"left","offset":-787,"domain":true,"values":[]}}}}
]},
{"width":20,"height":266,"resolve":{"axis":{"x":"independent","y":"independent"}},"layer":[
{"data":{"name":"cbBands"},"mark":{"type":"rect","stroke":"#1a1a1a","strokeWidth":1},"encoding":{"x":{"datum":0,"type":"quantitative","axis":null,"scale":{"domain":[0,1],"nice":false,"zero":false}},"x2":{"datum":1},"y":{"field":"lo","type":"quantitative","scale":{"domain":[-2,20],"nice":false,"zero":false},"axis":{"orient":"right","values":[-0.5,19.6],"labels":true,"labelExpr":"datum.value>0?'3':'0'","labelFontSize":17,"labelPadding":5,"title":"ppmb","titleFontSize":17,"titleAngle":270,"titleBaseline":"middle","titleX":11,"titleY":133}},"y2":{"field":"hi"},"color":{"field":"c","type":"nominal","legend":null,"scale":{"domain":["k","i","p","v","b","c","t","s","g","l","y","a","o","x","r"],"range":["#000000","#3c0078","#5c04cc","#3830f8","#0a70f8","#00a4dc","#00d0b0","#08f078","#40ff44","#88f41c","#d0dc00","#f8b400","#ff8000","#f54600","#c81400"]}}}},
{"data":{"name":"cbEnds"},"mark":{"type":"area","stroke":"#1a1a1a","strokeWidth":1},"encoding":{"x":{"field":"u","type":"quantitative","axis":null},"y":{"field":"hi","type":"quantitative","axis":null,"stack":null},"y2":{"field":"lo"},"color":{"field":"c","type":"nominal","legend":null}}}
]}
]},
{"bounds":"flush","spacing":10,"hconcat":[
{"width":360,"height":266,"title":"HALOE HCl AO Amp. & Phase","resolve":{"axis":{"x":"independent","y":"independent"}},"layer":[
{"data":{"name":"ao"},"mark":{"type":"area","clip":true},"encoding":{"x":{"field":"lat","type":"quantitative","axis":null,"scale":{"domain":[-40,40],"nice":false,"zero":false}},"y":{"field":"hi","type":"quantitative","axis":null,"scale":{"domain":[16,35],"nice":false,"zero":false},"stack":null},"y2":{"field":"lo"},"detail":{"field":"b"},"color":{"field":"c","type":"nominal","legend":null,"scale":{"domain":["k","i","p","v","b","c","t","s","g","l","y","a","o","x","r"],"range":["#000000","#3c0078","#5c04cc","#3830f8","#0a70f8","#00a4dc","#00d0b0","#08f078","#40ff44","#88f41c","#d0dc00","#f8b400","#ff8000","#f54600","#c81400"]}}}},
{"data":{"name":"aoHatch"},"mark":{"type":"rule","stroke":"white","strokeWidth":2,"clip":true},"encoding":{"x":{"field":"lat","type":"quantitative","axis":null},"y":{"field":"km","type":"quantitative","axis":null},"x2":{"field":"lat2"},"y2":{"field":"km2"}}},
{"data":{"name":"aoLines"},"transform":[{"window":[{"op":"row_number","as":"i"}]}],"mark":{"type":"line","stroke":"white","strokeWidth":2,"clip":true},"encoding":{"x":{"field":"lat","type":"quantitative","axis":null},"y":{"field":"km","type":"quantitative","axis":null},"detail":{"field":"l"},"order":{"field":"i","type":"quantitative"}}},
{"data":{"name":"aoText"},"mark":{"type":"text","color":"white","fontSize":20,"fontWeight":"bold"},"encoding":{"x":{"field":"lat","type":"quantitative","axis":null},"y":{"field":"km","type":"quantitative","axis":null},"text":{"field":"t"},"angle":{"field":"a","type":"quantitative","scale":null}}},
{"data":{"name":"kmT"},"mark":{"type":"rule","stroke":"black","strokeWidth":1.5},"encoding":{"x":{"datum":-40,"type":"quantitative","axis":null},"x2":{"datum":-39.11},"y":{"field":"km","type":"quantitative","axis":null}}},
{"data":{"name":"kmT"},"mark":{"type":"rule","stroke":"black","strokeWidth":1.5},"encoding":{"x":{"datum":40,"type":"quantitative","axis":null},"x2":{"datum":39.11},"y":{"field":"km","type":"quantitative","axis":null}}},
{"data":{"name":"kmM"},"mark":{"type":"rule","stroke":"black","strokeWidth":1.5},"encoding":{"x":{"datum":-40,"type":"quantitative","axis":null},"x2":{"datum":-38.22},"y":{"field":"km","type":"quantitative","axis":null}}},
{"data":{"name":"kmM"},"mark":{"type":"rule","stroke":"black","strokeWidth":1.5},"encoding":{"x":{"datum":40,"type":"quantitative","axis":null},"x2":{"datum":38.22},"y":{"field":"km","type":"quantitative","axis":null}}},
{"data":{"name":"latT"},"mark":{"type":"rule","stroke":"black","strokeWidth":1.5},"encoding":{"x":{"field":"lat","type":"quantitative","axis":null},"y":{"datum":16,"type":"quantitative","axis":null},"y2":{"datum":16.29}}},
{"data":{"name":"latT"},"mark":{"type":"rule","stroke":"black","strokeWidth":1.5},"encoding":{"x":{"field":"lat","type":"quantitative","axis":null},"y":{"datum":35,"type":"quantitative","axis":null},"y2":{"datum":34.71}}},
{"data":{"values":[{"lat":0,"km":20}]},"mark":{"type":"point","opacity":0},"encoding":{"x":{"field":"lat","type":"quantitative","axis":{"orient":"bottom","values":[-40,-20,0,20,40],"labels":true,"labelExpr":"''+datum.value","labelPadding":9,"title":"Latitude","titlePadding":2}},"y":{"field":"km","type":"quantitative","axis":{"orient":"left","values":[20,25,30,35],"labels":true,"labelPadding":7,"labelFlush":true,"title":"km","titlePadding":12}}}},
{"data":{"values":[{"lat":0,"km":20}]},"mark":{"type":"point","opacity":0},"encoding":{"x":{"field":"lat","type":"quantitative","axis":{"orient":"top","offset":-266,"domain":true,"values":[]}},"y":{"field":"km","type":"quantitative","axis":{"orient":"right","offset":-360,"domain":true,"values":[]}}}},
{"data":{"values":[{"lat":0,"km":20}]},"mark":{"type":"point","opacity":0},"encoding":{"x":{"field":"lat","type":"quantitative","axis":{"orient":"bottom","offset":-266,"domain":true,"values":[]}},"y":{"field":"km","type":"quantitative","axis":{"orient":"left","offset":-360,"domain":true,"values":[]}}}}
]},
{"width":20,"height":266,"resolve":{"axis":{"x":"independent","y":"independent"}},"layer":[
{"data":{"name":"cbBands"},"mark":{"type":"rect","stroke":"#1a1a1a","strokeWidth":1},"encoding":{"x":{"datum":0,"type":"quantitative","axis":null,"scale":{"domain":[0,1],"nice":false,"zero":false}},"x2":{"datum":1},"y":{"field":"lo","type":"quantitative","scale":{"domain":[-2,20],"nice":false,"zero":false},"axis":{"orient":"right","values":[-0.5,19.6],"labels":true,"labelExpr":"datum.value>0?'0.20':'0'","labelFontSize":17,"labelPadding":5,"title":"ppmb","titleFontSize":17,"titleAngle":270,"titleBaseline":"middle","titleX":11,"titleY":133}},"y2":{"field":"hi"},"color":{"field":"c","type":"nominal","legend":null,"scale":{"domain":["k","i","p","v","b","c","t","s","g","l","y","a","o","x","r"],"range":["#000000","#3c0078","#5c04cc","#3830f8","#0a70f8","#00a4dc","#00d0b0","#08f078","#40ff44","#88f41c","#d0dc00","#f8b400","#ff8000","#f54600","#c81400"]}}}},
{"data":{"name":"cbEnds"},"mark":{"type":"area","stroke":"#1a1a1a","strokeWidth":1},"encoding":{"x":{"field":"u","type":"quantitative","axis":null},"y":{"field":"hi","type":"quantitative","axis":null,"stack":null},"y2":{"field":"lo"},"color":{"field":"c","type":"nominal","legend":null}}}
]},
{"width":95,"height":266,"data":{"values":[{"lat":0,"km":0}]},"mark":{"type":"point","opacity":0},"encoding":{"x":{"field":"lat","type":"quantitative","axis":null},"y":{"field":"km","type":"quantitative","axis":null}}},
{"width":360,"height":266,"title":"HALOE HCl QBO Amp. & Phase","resolve":{"axis":{"x":"independent","y":"independent"}},"layer":[
{"data":{"name":"qbo"},"mark":{"type":"area","clip":true},"encoding":{"x":{"field":"lat","type":"quantitative","axis":null,"scale":{"domain":[-40,40],"nice":false,"zero":false}},"y":{"field":"hi","type":"quantitative","axis":null,"scale":{"domain":[16,35],"nice":false,"zero":false},"stack":null},"y2":{"field":"lo"},"detail":{"field":"b"},"color":{"field":"c","type":"nominal","legend":null,"scale":{"domain":["k","i","p","v","b","c","t","s","g","l","y","a","o","x","r"],"range":["#000000","#3c0078","#5c04cc","#3830f8","#0a70f8","#00a4dc","#00d0b0","#08f078","#40ff44","#88f41c","#d0dc00","#f8b400","#ff8000","#f54600","#c81400"]}}}},
{"data":{"name":"qboHatch"},"mark":{"type":"rule","stroke":"white","strokeWidth":2,"clip":true},"encoding":{"x":{"field":"lat","type":"quantitative","axis":null},"y":{"field":"km","type":"quantitative","axis":null},"x2":{"field":"lat2"},"y2":{"field":"km2"}}},
{"data":{"name":"qboLines"},"transform":[{"window":[{"op":"row_number","as":"i"}]}],"mark":{"type":"line","stroke":"white","strokeWidth":2,"clip":true},"encoding":{"x":{"field":"lat","type":"quantitative","axis":null},"y":{"field":"km","type":"quantitative","axis":null},"detail":{"field":"l"},"order":{"field":"i","type":"quantitative"}}},
{"data":{"name":"qboText"},"mark":{"type":"text","color":"white","fontSize":20,"fontWeight":"bold"},"encoding":{"x":{"field":"lat","type":"quantitative","axis":null},"y":{"field":"km","type":"quantitative","axis":null},"text":{"field":"t"},"angle":{"field":"a","type":"quantitative","scale":null}}},
{"data":{"name":"kmT"},"mark":{"type":"rule","stroke":"black","strokeWidth":1.5},"encoding":{"x":{"datum":-40,"type":"quantitative","axis":null},"x2":{"datum":-39.11},"y":{"field":"km","type":"quantitative","axis":null}}},
{"data":{"name":"kmT"},"mark":{"type":"rule","stroke":"black","strokeWidth":1.5},"encoding":{"x":{"datum":40,"type":"quantitative","axis":null},"x2":{"datum":39.11},"y":{"field":"km","type":"quantitative","axis":null}}},
{"data":{"name":"kmM"},"mark":{"type":"rule","stroke":"black","strokeWidth":1.5},"encoding":{"x":{"datum":-40,"type":"quantitative","axis":null},"x2":{"datum":-38.22},"y":{"field":"km","type":"quantitative","axis":null}}},
{"data":{"name":"kmM"},"mark":{"type":"rule","stroke":"black","strokeWidth":1.5},"encoding":{"x":{"datum":40,"type":"quantitative","axis":null},"x2":{"datum":38.22},"y":{"field":"km","type":"quantitative","axis":null}}},
{"data":{"name":"latT"},"mark":{"type":"rule","stroke":"black","strokeWidth":1.5},"encoding":{"x":{"field":"lat","type":"quantitative","axis":null},"y":{"datum":16,"type":"quantitative","axis":null},"y2":{"datum":16.29}}},
{"data":{"name":"latT"},"mark":{"type":"rule","stroke":"black","strokeWidth":1.5},"encoding":{"x":{"field":"lat","type":"quantitative","axis":null},"y":{"datum":35,"type":"quantitative","axis":null},"y2":{"datum":34.71}}},
{"data":{"values":[{"lat":0,"km":20}]},"mark":{"type":"point","opacity":0},"encoding":{"x":{"field":"lat","type":"quantitative","axis":{"orient":"bottom","values":[-40,-20,0,20,40],"labels":true,"labelExpr":"''+datum.value","labelPadding":9,"title":"Latitude","titlePadding":2}},"y":{"field":"km","type":"quantitative","axis":{"orient":"left","values":[20,25,30,35],"labels":true,"labelPadding":7,"labelFlush":true,"title":"km","titlePadding":12}}}},
{"data":{"values":[{"lat":0,"km":20}]},"mark":{"type":"point","opacity":0},"encoding":{"x":{"field":"lat","type":"quantitative","axis":{"orient":"top","offset":-266,"domain":true,"values":[]}},"y":{"field":"km","type":"quantitative","axis":{"orient":"right","offset":-360,"domain":true,"values":[]}}}},
{"data":{"values":[{"lat":0,"km":20}]},"mark":{"type":"point","opacity":0},"encoding":{"x":{"field":"lat","type":"quantitative","axis":{"orient":"bottom","offset":-266,"domain":true,"values":[]}},"y":{"field":"km","type":"quantitative","axis":{"orient":"left","offset":-360,"domain":true,"values":[]}}}}
]}
]}
]}
